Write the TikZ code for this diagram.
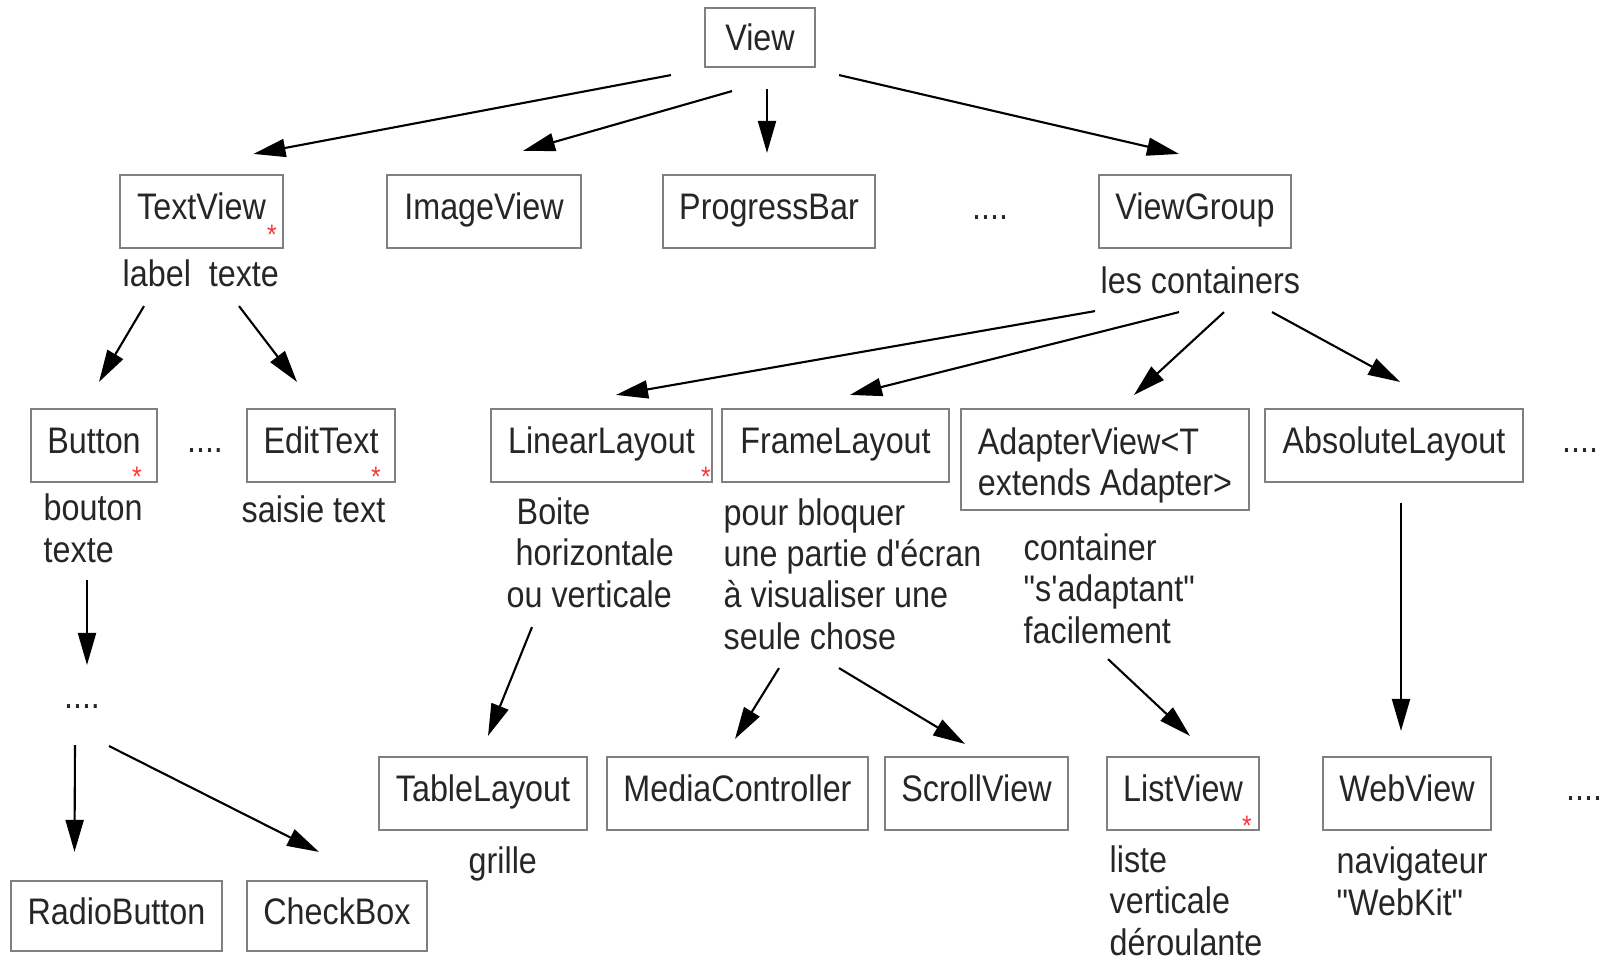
\documentclass[tikz,border=0pt]{standalone}
\usepackage{fontspec}
\newfontfamily\diagfont{Liberation Sans}[FakeStretch=0.875]
\usetikzlibrary{arrows.meta,positioning}

\begin{document}
\begin{tikzpicture}[
    x=0.01cm, y=-0.01cm,
    every node/.style={font=\diagfont\fontsize{10.5}{11.7}\selectfont,
                       text=black!85},
    box/.style={draw=black!50, line width=0.6pt, minimum width=#1,
                minimum height=0.73cm, inner sep=0pt,
                text height=7.6pt, text depth=2.9pt},
    note/.style={anchor=base west, align=left, inner sep=0pt},
    etc/.style={anchor=base, inner sep=0pt},
    flag/.style={text=red!80, inner sep=0pt,
                 font=\diagfont\fontsize{8}{8}\selectfont},
    arrow/.style={-{Triangle[length=0.32cm, width=0.18cm]}, line width=0.6pt,
                  black}
]
\useasboundingbox (0,0) rectangle (1600,960);
\node[box=1.10cm, minimum height=0.59cm, text depth=0pt] (view) at (760,37.5) {View};
\node[box=1.63cm] (textview)    at (201.5,211.5) {TextView};
\node[box=1.94cm] (imageview)   at (484,211.5)   {ImageView};
\node[box=2.12cm] (progressbar) at (769,211.5)   {ProgressBar};
\node[etc]        (dotsb)       at (990,219)     {....};
\node[box=1.92cm] (viewgroup)   at (1195,211.5)  {ViewGroup};
\node[note] (tvnote) at (122,286)  {label\ \ texte};
\node[note] (vgnote) at (1100,293) {les containers};

\node[box=1.26cm] (button)   at (94,445.5)  {Button};
\node[etc]        (dotsc)    at (205,452)   {....};
\node[box=1.48cm] (edittext) at (321,445.5) {EditText};
\node[box=2.21cm] (linearlayout) at (601.5,445.5) {LinearLayout};
\node[box=2.27cm] (framelayout)  at (835.5,445.5) {FrameLayout};
\node[draw=black!50, line width=0.6pt, minimum width=2.88cm,
      minimum height=1.01cm, inner sep=0pt, align=left] (adapterview)
      at (1105,459.5) {\rule{0pt}{10.8pt}AdapterView<T\\extends Adapter>};
\node[box=2.58cm] (absolutelayout) at (1394,445.5) {AbsoluteLayout};
\node[etc]        (dotsd)    at (1580,452)  {....};
\node[note] (btnote) at (43,562)   {bouton\\texte};
\node[note] (etnote) at (241,522)  {saisie text};
\node[note] (llnote) at (506,607)
     {\hspace*{0.1cm}Boite\\\hspace*{0.09cm}horizontale\\ou verticale};
\node[note] (flnote) at (723,649)
     {pour bloquer\\une partie d'écran\\à visualiser une\\seule chose};
\node[note] (avnote) at (1023,643) {container\\"s'adaptant"\\facilement};

\node[box=2.08cm] (tablelayout)     at (483,793.5)   {TableLayout};
\node[box=2.61cm] (mediacontroller) at (737.5,793.5) {MediaController};
\node[box=1.83cm] (scrollview)      at (976.5,793.5) {ScrollView};
\node[box=1.52cm] (listview)        at (1183,793.5)  {ListView};
\node[box=1.68cm] (webview)         at (1407,793.5)  {WebView};
\node[etc]        (dotse)           at (1584,800)    {....};
\node[note] (tlnote) at (468,873)  {grille};
\node[note] (lvnote) at (1109,955) {liste\\verticale\\déroulante};
\node[note] (wvnote) at (1336,915) {navigateur\\"WebKit"};

\node[etc] (dotsa) at (82,708) {....};
\node[box=2.11cm, minimum height=0.70cm] (radiobutton) at (116.5,916) {RadioButton};
\node[box=1.80cm, minimum height=0.70cm] (checkbox)    at (337,916)   {CheckBox};

\node[flag] (tvstar) at (272,235)  {*};
\node[flag] (btstar) at (137,477)  {*};
\node[flag] (etstar) at (376,477)  {*};
\node[flag] (llstar) at (706,477)  {*};
\node[flag] (lvstar) at (1247,826) {*};

\draw[arrow] ([shift={(-33,7)}]view.south west) -- ([shift={(52,-20)}]textview.north);
\draw[arrow] ([shift={(-28,23)}]view.south) -- ([shift={(39,-23)}]imageview.north);
\draw[arrow] ([shift={(7,21)}]view.south) -- ([shift={(-2,-21)}]progressbar.north);
\draw[arrow] ([shift={(23,7)}]view.south east) -- ([shift={(-16,-20)}]viewgroup.north);
\draw[arrow] ([shift={(-57.5,57)}]textview.south) -- ([shift={(5,-26)}]button.north);
\draw[arrow] ([shift={(37.5,57)}]textview.south) -- ([shift={(-24,-26)}]edittext.north);
\draw[arrow] ([shift={(-100,62)}]viewgroup.south) -- ([shift={(14.5,-13)}]linearlayout.north);
\draw[arrow] ([shift={(-16,63)}]viewgroup.south) -- ([shift={(14.5,-13)}]framelayout.north);
\draw[arrow] ([shift={(29,63)}]viewgroup.south) -- ([shift={(29,-13)}]adapterview.north);
\draw[arrow] ([shift={(77,63)}]viewgroup.south) -- ([shift={(6,-26)}]absolutelayout.north);
\draw[arrow] ([shift={(-7,97)}]button.south) -- ([shift={(5,-43)}]dotsa.base);
\draw[arrow] ([shift={(-7,37)}]dotsa.base) -- ([shift={(-42,-28)}]radiobutton.north);
\draw[arrow] ([shift={(27,38)}]dotsa.base) -- ([shift={(-18,-28)}]checkbox.north);
\draw[arrow] ([shift={(-69.5,144)}]linearlayout.south) -- ([shift={(5,-20)}]tablelayout.north);
\draw[arrow] ([shift={(-56.5,185)}]framelayout.south) -- ([shift={(-2.5,-17)}]mediacontroller.north);
\draw[arrow] ([shift={(3.5,185)}]framelayout.south) -- ([shift={(-11.5,-12)}]scrollview.north);
\draw[arrow] ([shift={(3,148)}]adapterview.south) -- ([shift={(7,-20)}]listview.north);
\draw[arrow] ([shift={(7,20)}]absolutelayout.south) -- ([shift={(-6,-25)}]webview.north);
\end{tikzpicture}
\end{document}
